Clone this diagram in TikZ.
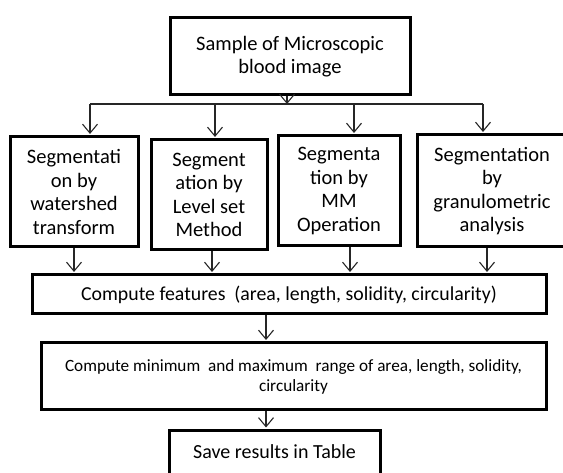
\documentclass[tikz,border=0pt]{standalone}
\usepackage{fontspec}
\setmainfont{Carlito}
\usetikzlibrary{arrows.meta}
\begin{document}
\begin{tikzpicture}[x=1pt,y=-1pt,
  box/.style={draw=black,line width=3pt,fill=white,inner sep=0pt,align=center,
    font=\fontsize{20.5}{23.5}\selectfont},
  conn/.style={draw=black!85,line width=1.1pt},
  arr/.style={conn,-{Straight Barb[length=9pt,width=15pt,line width=1.1pt]}}]
\useasboundingbox (0,0) rectangle (563,473);
% boxes
\node[box,minimum width=240,minimum height=77] (top) at (290,56.5)
  {Sample of Microscopic\\blood image};
\node[box,minimum width=128,minimum height=110] (b1) at (74,192)
  {Segmentati\\on by\\watershed\\transform};
\node[box,minimum width=116,minimum height=110] (b2) at (209,195)
  {Segment\\ation by\\Level set\\Method};
\node[box,minimum width=122,minimum height=110] (b3) at (339,191)
  {Segmenta\\tion by\\MM\\Operation};
\node[box,minimum width=150,minimum height=112] (b4) at (492,191)
  {Segmentation\\by\\granulometric\\analysis};
\node[box,minimum width=514,minimum height=39,font=\fontsize{19.8}{22}\selectfont] (cf) at (289,294.5)
  {Compute features\ \ (area, length, solidity, circularity)};
\node[box,minimum width=505,minimum height=67,font=\fontsize{17.2}{20}\selectfont] (cm) at (293.5,376.5)
  {Compute minimum\ \ and maximum\ \ range of area, length, solidity,\\circularity};
\node[box,minimum width=211,text height=28pt,text depth=22pt,anchor=north,font=\fontsize{20}{23}\selectfont] (sv) at (274.5,429)
  {Save results in Table};
% bus
\coordinate (j0) at (287,104);
\coordinate (d1) at (90,104);
\coordinate (d2) at (215,104);
\coordinate (d3) at (354,104);
\coordinate (d4) at (483,104);
\draw[arr] (top.south -| j0) -- (j0);
\draw[conn] (d1) -- (d4);
\draw[arr,shorten >=1.5pt] (d1) -- (d1 |- b1.north);
\draw[arr,shorten >=1.5pt] (d2) -- (d2 |- b2.north);
\draw[arr,shorten >=1.5pt] (d3) -- (d3 |- b3.north);
\draw[arr,shorten >=1.5pt] (d4) -- (d4 |- b4.north);
% to compute features
\coordinate (u1) at (74,0);
\coordinate (u2) at (212,0);
\coordinate (u3) at (350,0);
\coordinate (u4) at (487,0);
\draw[arr,shorten >=1.5pt] (b1.south -| u1) -- (cf.north -| u1);
\draw[arr,shorten >=1.5pt] (b2.south -| u2) -- (cf.north -| u2);
\draw[arr,shorten >=1.5pt] (b3.south -| u3) -- (cf.north -| u3);
\draw[arr,shorten >=1.5pt] (b4.south -| u4) -- (cf.north -| u4);
% lower chain
\coordinate (v) at (266,0);
\draw[arr,shorten >=1.5pt] (cf.south -| v) -- (cm.north -| v);
\draw[arr,shorten >=1.5pt] (cm.south -| v) -- (sv.north -| v);
\end{tikzpicture}
\end{document}
